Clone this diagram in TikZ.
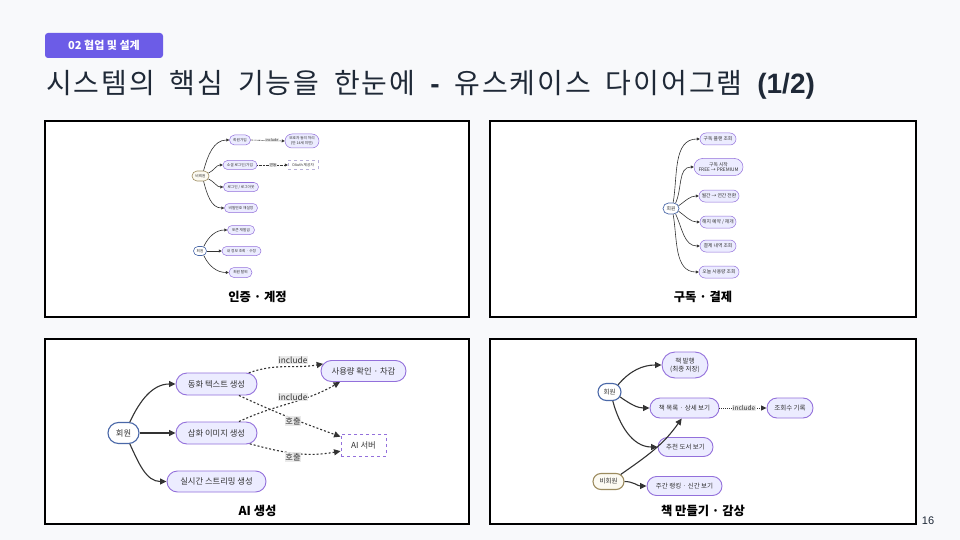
\documentclass[tikz,border=0pt]{standalone}
\usepackage{fontspec}
\setmainfont{Noto Sans CJK KR}
\newfontfamily\lat{Liberation Sans}
\newfontfamily\ttlfont{Noto Sans CJK KR}[LetterSpace=7,WordSpace=1.8]
\usetikzlibrary{shapes.misc,arrows.meta}
\definecolor{bg}{HTML}{F8F9FB}
\definecolor{tagc}{HTML}{6C5CE7}
\definecolor{ttl}{HTML}{1F2937}
\definecolor{ucfill}{HTML}{ECECFF}
\definecolor{ucdraw}{HTML}{9370DB}
\definecolor{actb}{HTML}{4A68A8}
\definecolor{actn}{HTML}{9C8B5E}
\definecolor{actnf}{HTML}{FCFAF2}
\definecolor{ln}{HTML}{333333}
\definecolor{lblc}{HTML}{E8E8E8}
\definecolor{extl}{HTML}{B8B0D8}
\tikzset{
  panel/.style={draw=black, line width=1.6pt, fill=white},
  uc/.style={rounded rectangle, draw=ucdraw, fill=ucfill, inner sep=0pt, align=center, text=ln},
  actorb/.style={rounded rectangle, draw=actb, fill=white, inner sep=0pt, text=ln},
  actorn/.style={rounded rectangle, draw=actn, fill=actnf, inner sep=0pt, text=ln},
  ext/.style={rectangle, draw=ucdraw, dashed, fill=white, inner sep=0pt, text=ln},
  lbl/.style={fill=lblc, fill opacity=0.9, text opacity=1, inner sep=0.8pt, text=ln},
  es/.style={draw=ln, line width=0.6pt, -{Triangle[length=3pt,width=3pt]}},
  eb/.style={draw=ln, line width=1.1pt, -{Triangle[length=6.5pt,width=6pt]}},
  ebd/.style={draw=ln, line width=1.1pt, dash pattern=on 2pt off 2pt, -{Triangle[length=6.5pt,width=6pt]}},
  esd/.style={draw=ln, line width=0.6pt, dash pattern=on 0.8pt off 0.6pt, -{Triangle[length=3pt,width=3pt]}},
  capt/.style={font=\bfseries\fontsize{12.3}{14}\selectfont, text=black},
  ftl/.style={font=\fontsize{3.7}{4.4}\selectfont},
  ftr/.style={font=\fontsize{4.8}{5.8}\selectfont},
  fbl/.style={font=\fontsize{8.3}{10}\selectfont},
  fbr/.style={font=\fontsize{6.5}{8}\selectfont},
}
\begin{document}
\begin{tikzpicture}[x=1pt,y=-1pt]
\fill[bg] (0,0) rectangle (960,540);
\useasboundingbox (0,0) rectangle (960,540);

% header
\node[fill=tagc, rounded corners=3pt, minimum width=118pt, minimum height=25pt, text=white,
  font=\bfseries\fontsize{11}{13}\selectfont] (tag) at (104,45.5) {02 협업 및 설계};
\node[anchor=west, text=ttl, inner sep=0pt, font=\ttlfont\fontsize{28}{32}\selectfont] (title) at (46,85)
  {시스템의 핵심 기능을 한눈에 {\lat\bfseries -} 유스케이스 다이어그램 {\lat\bfseries (1/2)}};

% panels
\node[panel, minimum width=424pt, minimum height=196pt] (p1) at (257,219) {};
\node[panel, minimum width=426pt, minimum height=196pt] (p2) at (703,219) {};
\node[panel, minimum width=424pt, minimum height=185pt] (p3) at (257,431.5) {};
\node[panel, minimum width=426pt, minimum height=185pt] (p4) at (703,431.5) {};

\node[capt] (cap1) at (257.5,297) {인증 · 계정};
\node[capt] (cap2) at (703,297) {구독 · 결제};
\node[capt] (cap3) at (257.5,511) {AI 생성};
\node[capt] (cap4) at (703,511) {책 만들기 · 감상};

% ---------- top-left ----------
\begin{scope}[ftl]
\node[actorn, line width=0.6pt, minimum width=17pt, minimum height=10pt] (nA) at (200.5,176) {비회원};
\node[uc, line width=0.5pt, minimum width=21pt, minimum height=10pt] (a1) at (240,140) {회원가입};
\node[uc, line width=0.5pt, minimum width=34pt, minimum height=14pt] (a2) at (302,141) {보호자 동의 처리\\(만 14세 미만)};
\node[uc, line width=0.5pt, minimum width=34pt, minimum height=9pt] (a3) at (240,165) {소셜 로그인/가입};
\node[ext, draw=extl, line width=0.5pt, minimum width=30pt, minimum height=9pt] (a4) at (303,165) {OAuth 제공자};
\node[uc, line width=0.5pt, minimum width=35pt, minimum height=9pt] (a5) at (241,187) {로그인 / 로그아웃};
\node[uc, line width=0.5pt, minimum width=33pt, minimum height=9pt] (a6) at (241,208) {비밀번호 재설정};
\node[actorb, line width=0.6pt, minimum width=13pt, minimum height=9pt] (nM) at (200,251) {회원};
\node[uc, line width=0.5pt, minimum width=27pt, minimum height=9pt] (a7) at (241,230) {토큰 재발급};
\node[uc, line width=0.5pt, minimum width=39pt, minimum height=9pt] (a8) at (241.5,251) {내 정보 조회 · 수정};
\node[uc, line width=0.5pt, minimum width=23pt, minimum height=10pt] (a9) at (240.5,272.5) {회원 탈퇴};

\draw[es] (nA.60) to[out=75,in=180] (a1.west);
\draw[es] (nA.20) to[out=25,in=180] (a3.west);
\draw[es] (nA.-20) to[out=-25,in=180] (a5.west);
\draw[es] (nA.-60) to[out=-75,in=180] (a6.west);
\draw[esd] (a1.east) -- (a2.west);
\draw[esd] (a3.east) -- (a4.west);
\draw[es] (nM.50) to[out=65,in=180] (a7.west);
\draw[es] (nM.east) -- (a8.west);
\draw[es] (nM.-50) to[out=-65,in=180] (a9.west);
\node[lbl] (l1) at (272,140) {include};
\node[lbl] (l2) at (273,165) {연동};
\end{scope}

% ---------- top-right ----------
\begin{scope}[ftr]
\node[actorb, line width=0.7pt, minimum width=16pt, minimum height=11pt] (nR) at (671,208.5) {회원};
\node[uc, line width=0.5pt, minimum width=36pt, minimum height=12pt] (b1) at (718,139) {구독 플랜 조회};
\node[uc, line width=0.5pt, minimum width=49pt, minimum height=17pt] (b2) at (718.5,167) {구독 시작\\FREE → PREMIUM};
\node[uc, line width=0.5pt, minimum width=40pt, minimum height=12pt] (b3) at (719,196) {월간 → 연간 전환};
\node[uc, line width=0.5pt, minimum width=36pt, minimum height=12pt] (b4) at (718,222) {해지 예약 / 재개};
\node[uc, line width=0.5pt, minimum width=36pt, minimum height=12pt] (b5) at (718,246) {결제 내역 조회};
\node[uc, line width=0.5pt, minimum width=40pt, minimum height=12pt] (b6) at (719,272) {오늘 사용량 조회};

\draw[es] (nR.70) to[out=80,in=180] (b1.west);
\draw[es] (nR.50) to[out=65,in=180] (b2.west);
\draw[es] (nR.20) to[out=35,in=180] (b3.west);
\draw[es] (nR.-20) to[out=-35,in=180] (b4.west);
\draw[es] (nR.-50) to[out=-65,in=180] (b5.west);
\draw[es] (nR.-70) to[out=-80,in=180] (b6.west);
\end{scope}

% ---------- bottom-left ----------
\begin{scope}[fbl]
\node[actorb, line width=1.1pt, minimum width=31pt, minimum height=21pt] (cM) at (123.5,433) {회원};
\node[uc, line width=0.9pt, minimum width=81pt, minimum height=22pt] (c1) at (216.5,384) {동화 텍스트 생성};
\node[uc, line width=0.9pt, minimum width=81pt, minimum height=22pt] (c2) at (216.5,433) {삽화 이미지 생성};
\node[uc, line width=0.9pt, minimum width=99pt, minimum height=21pt] (c3) at (216.5,481.5) {실시간 스트리밍 생성};
\node[uc, line width=0.9pt, minimum width=85pt, minimum height=21pt] (c4) at (363.5,371) {사용량 확인 · 차감};
\node[ext, line width=0.9pt, minimum width=45pt, minimum height=22pt] (c5) at (363.5,445) {AI 서버};

\draw[eb] (cM.60) to[out=65,in=180] (c1.west);
\draw[eb] (cM.east) -- (c2.west);
\draw[eb] (cM.-60) to[out=-65,in=180] (c3.west);
\draw[ebd] (c1.19) to[out=20,in=190] (c4.170);
\draw[ebd] (c2.27) to[out=25,in=210] (c4.205);
\draw[ebd] (c1.-27) to[out=-25,in=160] (c5.160);
\draw[ebd] (c2.-18) to[out=-15,in=190] (c5.195);
\node[lbl] (l3) at (293,360) {include};
\node[lbl] (l4) at (293,397) {include};
\node[lbl] (l5) at (293,421) {호출};
\node[lbl] (l6) at (293,457) {호출};
\end{scope}

% ---------- bottom-right ----------
\begin{scope}[fbr]
\node[actorb, line width=1.1pt, minimum width=23pt, minimum height=17pt] (dM) at (609.5,392) {회원};
\node[actorn, line width=1.1pt, minimum width=31pt, minimum height=16pt] (dN) at (608.5,481.5) {비회원};
\node[uc, line width=0.9pt, minimum width=46pt, minimum height=26pt] (d1) at (685,365) {책 발행\\(최종 저장)};
\node[uc, line width=0.9pt, minimum width=69pt, minimum height=20pt] (d2) at (684.5,408) {책 목록 · 상세 보기};
\node[uc, line width=0.9pt, minimum width=46pt, minimum height=20pt] (d3) at (790,408) {조회수 기록};
\node[uc, line width=0.9pt, minimum width=55pt, minimum height=19pt] (d4) at (685.5,447) {추천 도서 보기};
\node[uc, line width=0.9pt, minimum width=75pt, minimum height=19pt] (d5) at (684.5,486) {주간 랭킹 · 신간 보기};

\draw[eb] (dM.40) to[out=50,in=180] (d1.west);
\draw[eb] (dM.-25) to[out=-35,in=180] (d2.west);
\draw[eb] (dM.-70) to[out=-75,in=180] (d4.west);
\draw[eb] (dN.30) to[out=35,in=235] (d2.255);
\draw[eb] (dN.east) to[out=0,in=180] (d5.west);
\draw[esd, line width=1pt, dash pattern=on 1pt off 1pt, -{Triangle[length=5.5pt,width=5pt]}] (d2.east) -- (d3.west);
\node[lbl] (l7) at (744,408) {include};
\end{scope}

\node[text=ttl, font=\lat\fontsize{11}{13}\selectfont] (pg) at (928,521) {16};
\end{tikzpicture}
\end{document}
